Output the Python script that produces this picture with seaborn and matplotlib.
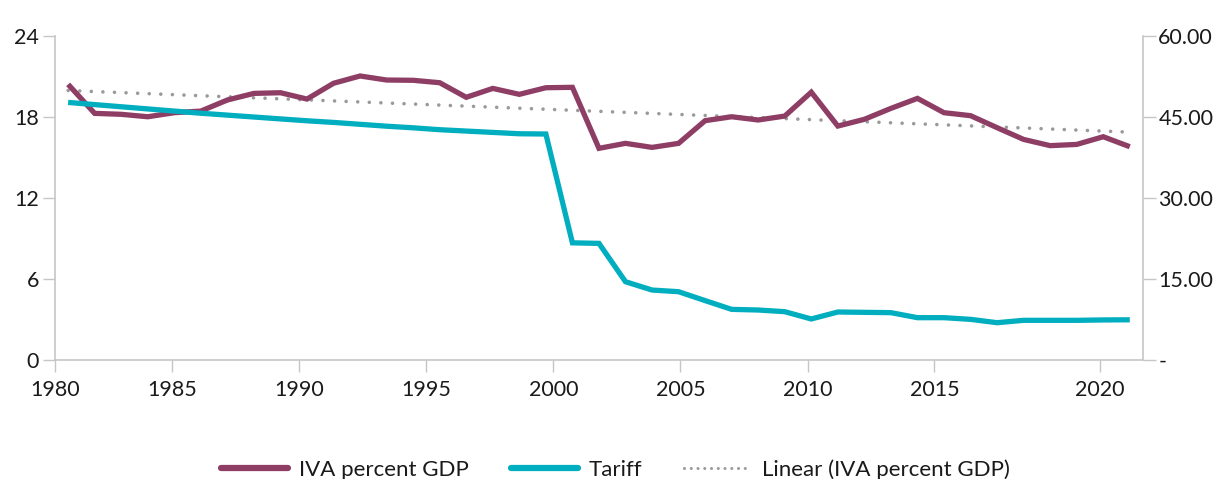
import numpy as np
import pandas as pd
import matplotlib
matplotlib.use("Agg")
import matplotlib.pyplot as plt
import seaborn as sns
from matplotlib.lines import Line2D

# ---- data ----
years = list(range(1981, 2022))
iva_pct_gdp = [20.42, 18.27, 18.20, 18.02, 18.32, 18.44, 19.26, 19.75, 19.80, 19.33,
               20.50, 21.04, 20.74, 20.72, 20.54, 19.46, 20.12, 19.68, 20.17, 20.20,
               15.68, 16.05, 15.75, 16.05, 17.73, 18.02, 17.78, 18.07, 19.84, 17.33,
               17.83, 18.64, 19.38, 18.32, 18.10, 17.21, 16.34, 15.88, 15.97, 16.54,
               15.80]
tariff = [47.70, 47.30, 46.90, 46.50, 46.10, 45.70, 45.35, 45.00, 44.65, 44.30,
          44.00, 43.65, 43.30, 43.00, 42.65, 42.40, 42.15, 41.90, 41.85, 21.70,
          21.60, 14.50, 12.96, 12.65, 11.00, 9.38, 9.26, 8.95, 7.60, 8.89,
          8.83, 8.77, 7.84, 7.84, 7.53, 6.91, 7.35, 7.35, 7.35, 7.42,
          7.45]
xtick_labels = ["1980", "1985", "1990", "1995", "2000", "2005", "2010", "2015", "2020"]
left_ticks = [0, 6, 12, 18, 24]
right_ticks = [0, 15, 30, 45, 60]
right_tick_labels = ["-", "15.00", "30.00", "45.00", "60.00"]

# ---- style ----
XTICK_POS = [1980.51, 1984.92, 1989.71, 1994.49, 1999.28, 2004.07, 2008.86, 2013.64, 2019.86]
PURPLE = "#8E3E65"
TEAL = "#00AEBF"
GREY_DOT = "#9A9A9A"
SPINE = "#C6C6C6"
TXT = "#1A1A1A"
FS = 15.5

df = pd.DataFrame({"year": years, "iva": iva_pct_gdp, "tariff": tariff})

sns.set_theme(style="white")
plt.rcParams["font.family"] = ["Lato", "DejaVu Sans"]

fig = plt.figure(figsize=(12.19, 4.79), dpi=100)
ax = fig.add_axes([0.045, 0.2484, 0.8927, 0.6764])
ax2 = ax.twinx()

# trend line (linear fit of IVA)
sns.regplot(data=df, x="year", y="iva", ax=ax, scatter=False, ci=None, truncate=True,
            line_kws=dict(color=GREY_DOT, lw=2.6, linestyle=(0, (0.01, 3.2)),
                          dash_capstyle="round", solid_capstyle="round"))
sns.lineplot(data=df, x="year", y="iva", ax=ax, color=PURPLE, lw=3.8,
             solid_joinstyle="miter", solid_capstyle="butt", zorder=3)
sns.lineplot(data=df, x="year", y="tariff", ax=ax2, color=TEAL, lw=3.8,
             solid_joinstyle="miter", solid_capstyle="butt", zorder=3)

ax.set_xlim(1980.5, 2021.5)
ax.set_ylim(0, 24)
ax2.set_ylim(0, 60)
ax.set_xticks(XTICK_POS)
ax.set_xticklabels(xtick_labels)
ax.set_yticks(left_ticks)
ax.set_yticklabels([str(t) for t in left_ticks])
ax2.set_yticks(right_ticks)
ax2.set_yticklabels(right_tick_labels)

for a in (ax, ax2):
    a.set_xlabel("")
    a.set_ylabel("")
    a.grid(False)
    for s in a.spines.values():
        s.set_color(SPINE)
        s.set_linewidth(1.2)
    a.spines["top"].set_visible(False)

ax.spines["right"].set_visible(False)
ax2.spines["left"].set_visible(False)
ax2.spines["bottom"].set_visible(False)

ax.tick_params(axis="x", length=8.5, width=1.0, color=SPINE, labelsize=FS, labelcolor=TXT,
               pad=6, direction="out", bottom=True)
ax.tick_params(axis="y", length=8.5, width=1.0, color=SPINE, labelsize=FS, labelcolor=TXT,
               pad=3, direction="out", left=True)
ax2.tick_params(axis="y", length=9, width=1.0, color=SPINE, labelsize=FS, labelcolor=TXT,
                pad=2, direction="out", right=True)

handles = [
    Line2D([], [], color=PURPLE, lw=4.5, solid_capstyle="round"),
    Line2D([], [], color=TEAL, lw=4.5, solid_capstyle="round"),
    Line2D([], [], color=GREY_DOT, lw=2.2, linestyle=(0, (0.01, 2.2)), dash_capstyle="round"),
]
labels = ["IVA percent GDP", "Tariff", "Linear (IVA percent GDP)"]
leg = fig.legend(handles, labels, loc="center", bbox_to_anchor=(0.505, 0.02), ncol=3,
                 frameon=False, fontsize=16, handlelength=3.0, handletextpad=0.5,
                 columnspacing=1.9, borderpad=0.0)
for t in leg.get_texts():
    t.set_color(TXT)

fig.savefig("out.png", dpi=100)
